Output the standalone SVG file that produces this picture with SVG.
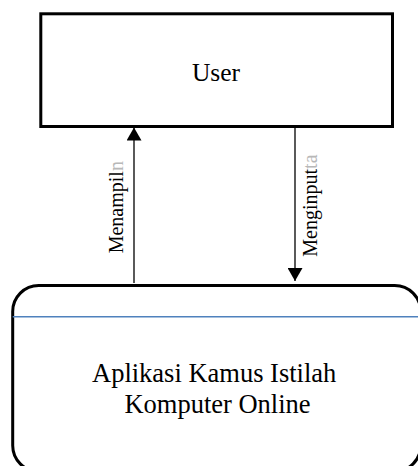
<svg xmlns="http://www.w3.org/2000/svg" width="418" height="466" viewBox="0 0 418 466">
  <style>
    .box { fill: #ffffff; stroke: #000000; stroke-width: 3; }
    .conn { stroke: #000000; stroke-width: 1.3; fill: none; }
    .t { font-family: "Liberation Serif", "Times New Roman", serif; fill: #000000; }
    .ghost { fill: #b8b8b8; }
  </style>
  <defs>
    <marker id="arrow" markerUnits="userSpaceOnUse" markerWidth="14" markerHeight="15" refX="13" refY="7.5" orient="auto">
      <path d="M0,0 L13,7.5 L0,15 z" fill="#000000"/>
    </marker>
  </defs>
  <rect x="0" y="0" width="418" height="466" fill="#ffffff"/>

  <g id="user">
    <rect class="box" x="40.8" y="13.8" width="351.7" height="112.7"/>
    <text class="t" x="216" y="80.5" font-size="25.5" text-anchor="middle">User</text>
  </g>

  <g id="aplikasi">
    <rect class="box" x="12.7" y="285.5" width="408" height="186" rx="26" ry="26"/>
    <line x1="12.7" y1="316.7" x2="420" y2="316.7" stroke="#4F81BD" stroke-width="1.6"/>
    <text class="t" font-size="26.5" text-anchor="middle">
      <tspan x="217.5" y="382">Aplikasi Kamus Istilah</tspan>
      <tspan x="217.5" y="413">Komputer Online</tspan>
    </text>
  </g>

  <g id="connectors">
    <line class="conn" x1="134" y1="283" x2="134" y2="127.5" marker-end="url(#arrow)"/>
    <line class="conn" x1="295" y1="127.5" x2="295" y2="281" marker-end="url(#arrow)"/>
    <text class="t" font-size="20" transform="translate(123,253.3) rotate(-90)">Menampil<tspan class="ghost">n</tspan></text>
    <text class="t" font-size="20" transform="translate(317,256.7) rotate(-90)">Menginput<tspan class="ghost">ta</tspan></text>
  </g>
</svg>
